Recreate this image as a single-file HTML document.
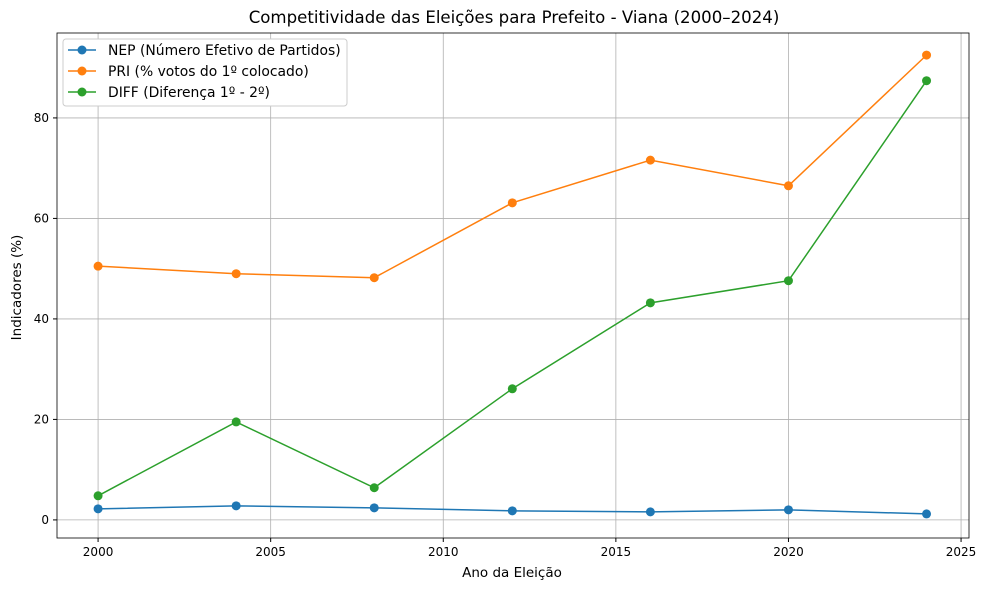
<!DOCTYPE html>
<html><head><meta charset="utf-8"><style>
body{margin:0;background:#fff;font-family:"Liberation Sans","DejaVu Sans",sans-serif;}
svg text{font-family:"DejaVu Sans","Liberation Sans",sans-serif;}
</style></head><body>
<svg id="chart" width="988" height="590" xmlns="http://www.w3.org/2000/svg"></svg>
<script>
const years=[2000,2004,2008,2012,2016,2020,2024];
const nep=[2.2,2.8,2.4,1.8,1.6,2.0,1.2];
const pri=[50.5,49.0,48.2,63.1,71.6,66.5,92.5];
const diff=[4.8,19.5,6.4,26.1,43.2,47.6,87.4];
const xTicks=[2000,2005,2010,2015,2020,2025];
const yTicks=[0,20,40,60,80];
const L=57,R=969,T=33,B=538;
const x0=1998.81,x1=2025.23,y0=-3.6,y1=96.9;
const sx=v=>L+(v-x0)/(x1-x0)*(R-L);
const sy=v=>B-(v-y0)/(y1-y0)*(B-T);
const svg=document.getElementById('chart');
const NS='http://www.w3.org/2000/svg';
function mk(t,a,p){const e=document.createElementNS(NS,t);for(const k in a)e.setAttribute(k,a[k]);(p||svg).appendChild(e);return e;}
xTicks.forEach(t=>{const g=mk('line',{x1:sx(t),x2:sx(t),y1:T,y2:B,stroke:'#b0b0b0','stroke-width':0.8});


mk('line',{x1:sx(t),x2:sx(t),y1:B,y2:B+4,stroke:'#000'});
const tx=mk('text',{x:sx(t),y:B+18,'text-anchor':'middle','font-size':12});tx.textContent=t;

});
yTicks.forEach(t=>{const g=mk('line',{x1:L,x2:R,y1:sy(t),y2:sy(t),stroke:'#b0b0b0','stroke-width':0.8});


mk('line',{x1:L-4,x2:L,y1:sy(t),y2:sy(t),stroke:'#000'});
const tx=mk('text',{x:L-8,y:sy(t)+4,'text-anchor':'end','font-size':12});tx.textContent=t;

});
const fr=mk('rect',{x:L,y:T,width:R-L,height:B-T,fill:'none',stroke:'#000','stroke-width':0.8});


function series(vals,color,name){
 const pl=mk('polyline',{points:vals.map((v,i)=>sx(years[i])+','+sy(v)).join(' '),fill:'none',stroke:color,'stroke-width':1.5});
 
 
 vals.forEach((v,i)=>{const c=mk('circle',{cx:sx(years[i]),cy:sy(v),r:4.5,fill:color});
 
 });
}
series(nep,'#1f77b4','nep');
series(pri,'#ff7f0e','pri');
series(diff,'#2ca02c','diff');
let t=mk('text',{x:(L+R)/2+1,y:23,'text-anchor':'middle','font-size':16.6});t.textContent='Competitividade das Eleições para Prefeito - Viana (2000–2024)';


t=mk('text',{x:(L+R)/2-1,y:577,'text-anchor':'middle','font-size':13.5});t.textContent='Ano da Eleição';


t=mk('text',{x:21,y:(T+B)/2+2,'text-anchor':'middle','font-size':13.5,transform:'rotate(-90 21 '+((T+B)/2+2)+')'});t.textContent='Indicadores (%)';


const lg=mk('g',{});


mk('rect',{x:63,y:39,width:284,height:67,rx:3,fill:'#fff',stroke:'#ccc'},lg);
[['NEP (Número Efetivo de Partidos)','#1f77b4'],['PRI (% votos do 1º colocado)','#ff7f0e'],['DIFF (Diferença 1º - 2º)','#2ca02c']].forEach((e,i)=>{
 const y=50+i*21;
 const g=mk('g',{},lg);
 
 
 mk('line',{x1:68,x2:96,y1:y,y2:y,stroke:e[1],'stroke-width':1.5},g);
 mk('circle',{cx:82,cy:y,r:4.5,fill:e[1]},g);
 const tx=mk('text',{x:108,y:y+5,'font-size':13.9},g);tx.textContent=e[0];
});
</script>
</body></html>
